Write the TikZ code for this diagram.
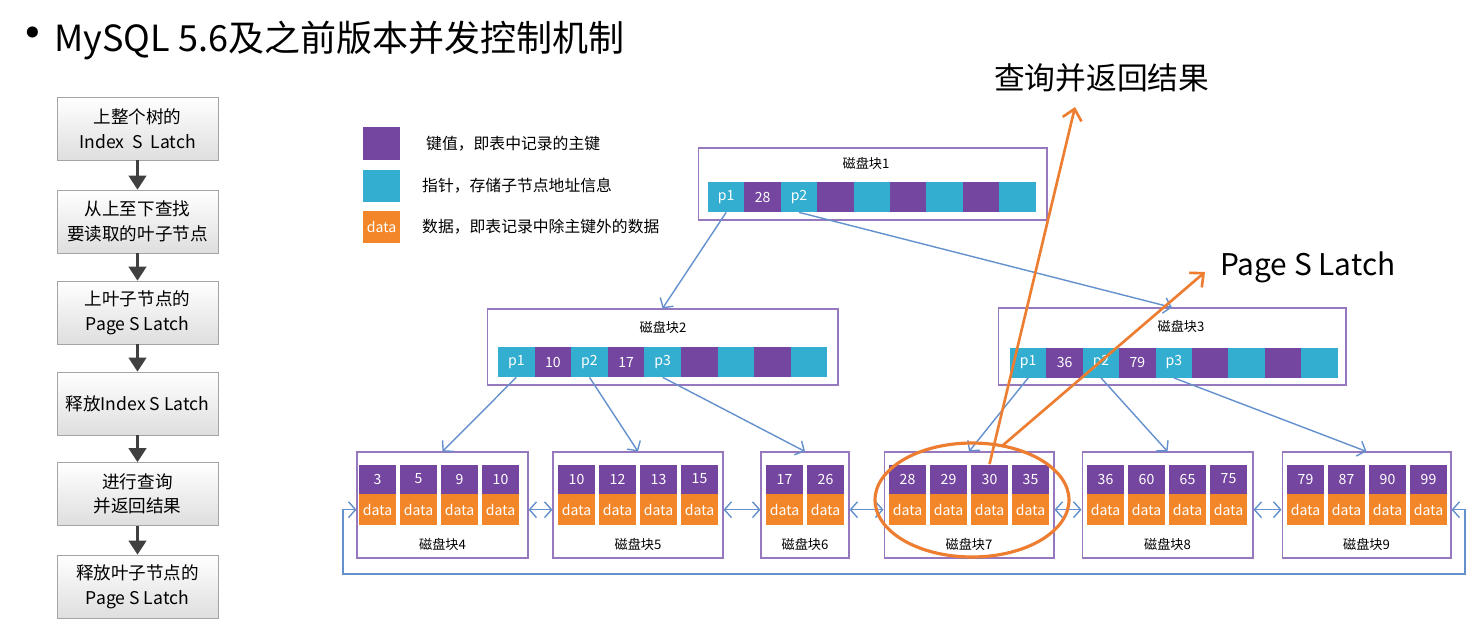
\documentclass[tikz,border=0pt]{standalone}
\usepackage{fontspec}
\setmainfont{Noto Sans CJK SC}
\usepackage{xcolor}
\usepackage{tikz}
\usetikzlibrary{shapes.geometric, arrows.meta, positioning, calc}
\definecolor{keypurple}{RGB}{116,70,160}
\definecolor{ptrteal}{RGB}{52,174,208}
\definecolor{dataorange}{RGB}{243,134,40}
\definecolor{framepurple}{RGB}{150,120,190}
\definecolor{linkblue}{RGB}{100,145,205}
\definecolor{hlorange}{RGB}{237,125,49}
\definecolor{boxedge}{RGB}{165,165,165}
\definecolor{boxfill}{RGB}{222,222,222}
\definecolor{flowdark}{RGB}{64,64,64}
\tikzset{
  stepbox/.style={rectangle, draw=boxedge, top color=white, bottom color=boxfill,
    minimum width=3.22cm, minimum height=1.26cm, align=center,
    font=\fontsize{10}{14}\selectfont, inner sep=2pt},
  flowarrow/.style={-{Triangle[length=8pt, width=10pt]}, line width=1.5pt, color=flowdark},
  cell/.style={rectangle, minimum width=0.73cm, minimum height=0.6cm,
    inner sep=0pt, text=white, font=\fontsize{8}{9}\selectfont},
  keycell/.style={cell, fill=keypurple},
  ptrcell/.style={cell, fill=ptrteal},
  leafkey/.style={cell, fill=keypurple, minimum width=0.74cm, minimum height=0.58cm},
  leafdata/.style={cell, fill=dataorange, minimum width=0.74cm, minimum height=0.62cm},
  diskframe/.style={rectangle, draw=framepurple, line width=0.6pt, inner sep=0pt},
  disklabel/.style={font=\fontsize{7.5}{9}\selectfont},
  legendtext/.style={anchor=west, font=\fontsize{9}{11}\selectfont},
  treelink/.style={-{Straight Barb[length=4pt, width=9pt]}, color=linkblue, line width=0.8pt},
  sidelink/.style={{Straight Barb[length=4pt, width=9pt]}-{Straight Barb[length=4pt, width=9pt]},
    color=linkblue, line width=0.8pt},
  hilite/.style={draw=hlorange, line width=1.8pt},
  hiarrow/.style={-{Straight Barb[length=6pt, width=11pt]}, color=hlorange, line width=1.5pt}
}
\begin{document}
\begin{tikzpicture}[x=0.02cm, y=-0.02cm]
  \useasboundingbox (0,0) rectangle (1474,632);

  % Title
  \node[font=\fontsize{30}{30}\selectfont] (dot) at (33,40) {\textbullet};
  \node[anchor=west, font=\fontsize{20.5}{24}\selectfont] (title) at (48,40) {MySQL 5.6及之前版本并发控制机制};

  % Flow of steps
  \node[stepbox] (s1) at (137.5,128.5) {上整个树的\\Index~~S~~Latch};
  \node[stepbox] (s2) at (137.5,221.5) {从上至下查找\\要读取的叶子节点};
  \node[stepbox] (s3) at (137.5,312.5) {上叶子节点的\\Page S Latch};
  \node[stepbox] (s4) at (137.5,403.5) {释放Index S Latch};
  \node[stepbox] (s5) at (137.5,494) {进行查询\\并返回结果};
  \node[stepbox] (s6) at (137.5,586.5) {释放叶子节点的\\Page S Latch};
  \foreach \a/\b in {s1/s2, s2/s3, s3/s4, s4/s5, s5/s6}
    \draw[flowarrow] (\a) -- (\b);

  % Legend
  \node[keycell, minimum width=0.74cm, minimum height=0.66cm] (lgkey) at (381.5,143.5) {};
  \node[ptrcell, minimum width=0.74cm, minimum height=0.66cm] (lgptr) at (381.5,186) {};
  \node[leafdata, minimum height=0.66cm] (lgdata) at (381.5,227) {data};
  \node[legendtext] (lgkeytxt) at (420,143.5) {键值，即表中记录的主键};
  \node[legendtext] (lgptrtxt) at (416,186) {指针，存储子节点地址信息};
  \node[legendtext] (lgdatatxt) at (416,227) {数据，即表记录中除主键外的数据};

  % Root block
  \node[diskframe, minimum width=6.98cm, minimum height=1.44cm] (blk1) at (872.5,184) {};
  \node[disklabel] (lbl1) at (866,163) {磁盘块1};
  \foreach \lab/\kind [count=\i] in {p1/ptrcell, 28/keycell, p2/ptrcell, /keycell, /ptrcell, /keycell, /ptrcell, /keycell, /ptrcell}
    \node[\kind] (b1c\i) at ({708+18.2+(\i-1)*36.4}, 197) {\lab};

  % Inner blocks
  \node[diskframe, minimum width=7.02cm, minimum height=1.52cm] (blk2) at (662.5,347) {};
  \node[disklabel] (lbl2) at (663,327) {磁盘块2};
  \foreach \lab/\kind [count=\i] in {p1/ptrcell, 10/keycell, p2/ptrcell, 17/keycell, p3/ptrcell, /keycell, /ptrcell, /keycell, /ptrcell}
    \node[\kind] (b2c\i) at ({498+18.3+(\i-1)*36.6}, 362) {\lab};

  \node[diskframe, minimum width=6.96cm, minimum height=1.54cm] (blk3) at (1172,346.5) {};
  \node[disklabel] (lbl3) at (1181,326) {磁盘块3};
  \foreach \lab/\kind [count=\i] in {p1/ptrcell, 36/keycell, p2/ptrcell, 79/keycell, p3/ptrcell, /keycell, /ptrcell, /keycell, /ptrcell}
    \node[\kind] (b3c\i) at ({1010+18.2+(\i-1)*36.4}, 362.5) {\lab};

  % Leaf blocks
  \foreach \n/\fx/\w/\cx/\keys in {4/442.5/3.42/359/{3,5,9,10}, 5/638/3.4/558/{10,12,13,15},
      6/805/1.76/766/{17,26}, 7/969/3.4/889/{28,29,30,35},
      8/1167.5/3.42/1087/{36,60,65,75}, 9/1366.5/3.38/1287/{79,87,90,99}} {
    \node[diskframe, minimum width=\w cm, minimum height=2.12cm] (blk\n) at (\fx,505) {};
    \foreach \k [count=\j] in \keys {
      \node[leafkey] (k\n\j) at ({\cx+18.5+(\j-1)*41}, 479) {\k};
      \node[leafdata, below=0pt of k\n\j] (d\n\j) {data};
    }
    \node[disklabel] (lbl\n) at (\fx,544) {磁盘块\n};
  }

  % Pointers
  \draw[treelink] (b1c1.south) -- (blk2.north);
  \draw[treelink] (b1c3.south) -- (blk3.north);
  \draw[treelink] (b2c1.south) -- (blk4.north);
  \draw[treelink] (b2c3.south) -- (blk5.north);
  \draw[treelink] (b2c5.south) -- (blk6.north);
  \draw[treelink] (b3c1.south) -- (blk7.north);
  \draw[treelink] (b3c3.south) -- (blk8.north);
  \draw[treelink] (b3c5.south) -- (blk9.north);

  % Leaf chain
  \foreach \a/\ka/\b in {4/4/5, 5/4/6, 6/2/7, 7/4/8, 8/4/9}
    \draw[sidelink] (blk\a.east |- d\a\ka) -- (blk\b.west |- d\a\ka);
  \coordinate (loopR) at (1465,574);
  \coordinate (loopL) at (343,574);
  \draw[sidelink] (blk9.east |- d94) -| (loopR) -- (loopL) |- (blk4.west |- d41);

  % Highlight
  \node[ellipse, hilite, minimum width=3.88cm, minimum height=2.28cm] (sel) at (972,500) {};
  \node[anchor=west, font=\fontsize{17.5}{20}\selectfont] (qres) at (988,78) {查询并返回结果};
  \node[anchor=west, font=\fontsize{17}{20}\selectfont] (platch) at (1214,267) {Page S Latch};
  \coordinate (qtip) at (1075,107);
  \coordinate (ltip) at (1205,272);
  \coordinate (lfoot) at (1002,446);
  \draw[hiarrow] (k73.north) -- (qtip);
  \draw[hiarrow] (lfoot) -- (ltip);
\end{tikzpicture}
\end{document}
